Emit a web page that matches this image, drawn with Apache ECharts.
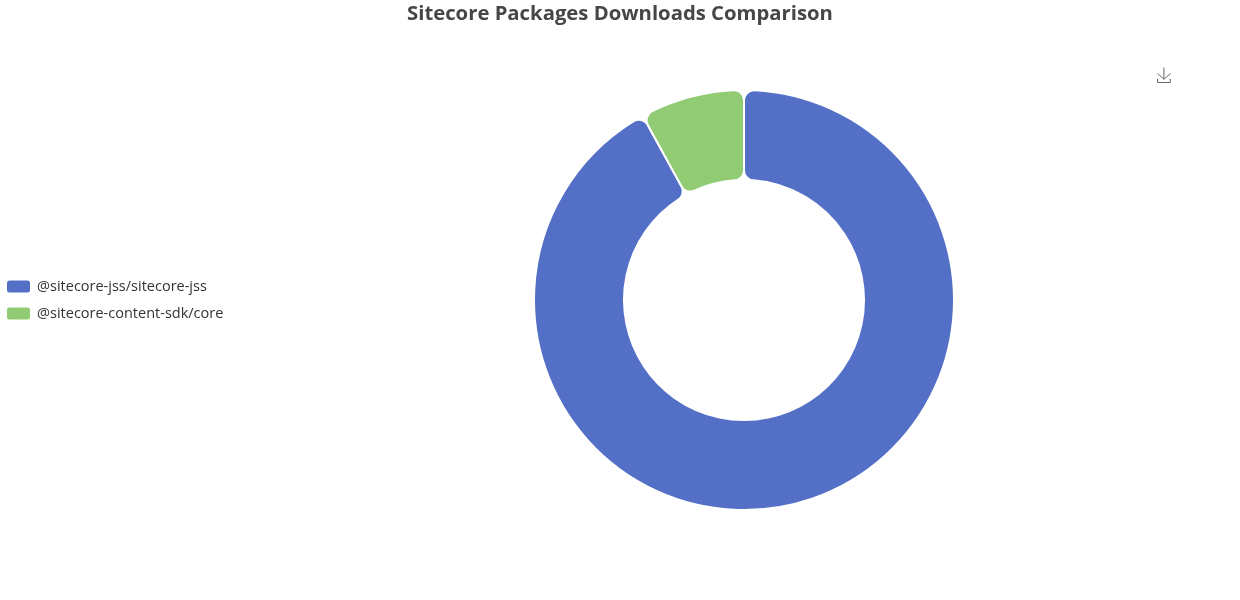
<!DOCTYPE html>
<html>
<head>
<meta charset="utf-8">
<style>
  html, body { margin: 0; padding: 0; background: #fff; }
  #box { width: 1240px; height: 600px; }
</style>
<script src="https://cdn.jsdelivr.net/npm/echarts@6/dist/echarts.min.js"></script>
</head>
<body>
<div id="box"></div>
<script>
// green slice is a bit under 30 degrees of the ring
const packages = ["@sitecore-jss/sitecore-jss", "@sitecore-content-sdk/core"];
const downloads = [92, 8];
const colors = ["#5470c6", "#91cc75"];

let chart = echarts.init(document.getElementById("box"), null, { renderer: "canvas" });
chart.setOption({
  animation: false,
  textStyle: { fontFamily: "Open Sans" },
  title: {
    text: "Sitecore Packages Downloads Comparison",
    left: "center",
    top: -1,
    textStyle: { fontSize: 20.3, fontWeight: "bold", color: "#464646", fontFamily: "Open Sans" }
  },
  toolbox: {
    right: 52,
    top: 50,
    feature: { saveAsImage: { title: "" } },
    iconStyle: { borderColor: "#666" }
  },
  legend: {
    orient: "vertical",
    left: 0,
    top: "middle",
    itemGap: 11,
    textStyle: { fontSize: 14.5, color: "#333", fontFamily: "Open Sans", padding: [0, 0, 0, 1] }
  },
  color: colors,
  series: [{
    type: "pie",
    center: ["60%", "50%"],
    radius: ["40%", "70%"],
    avoidLabelOverlap: false,
    itemStyle: { borderRadius: 10, borderColor: "#fff", borderWidth: 2 },
    label: { show: false },
    labelLine: { show: false },
    data: packages.map((name, i) => ({ name: name, value: downloads[i] }))
  }]
});
</script>
</body>
</html>
